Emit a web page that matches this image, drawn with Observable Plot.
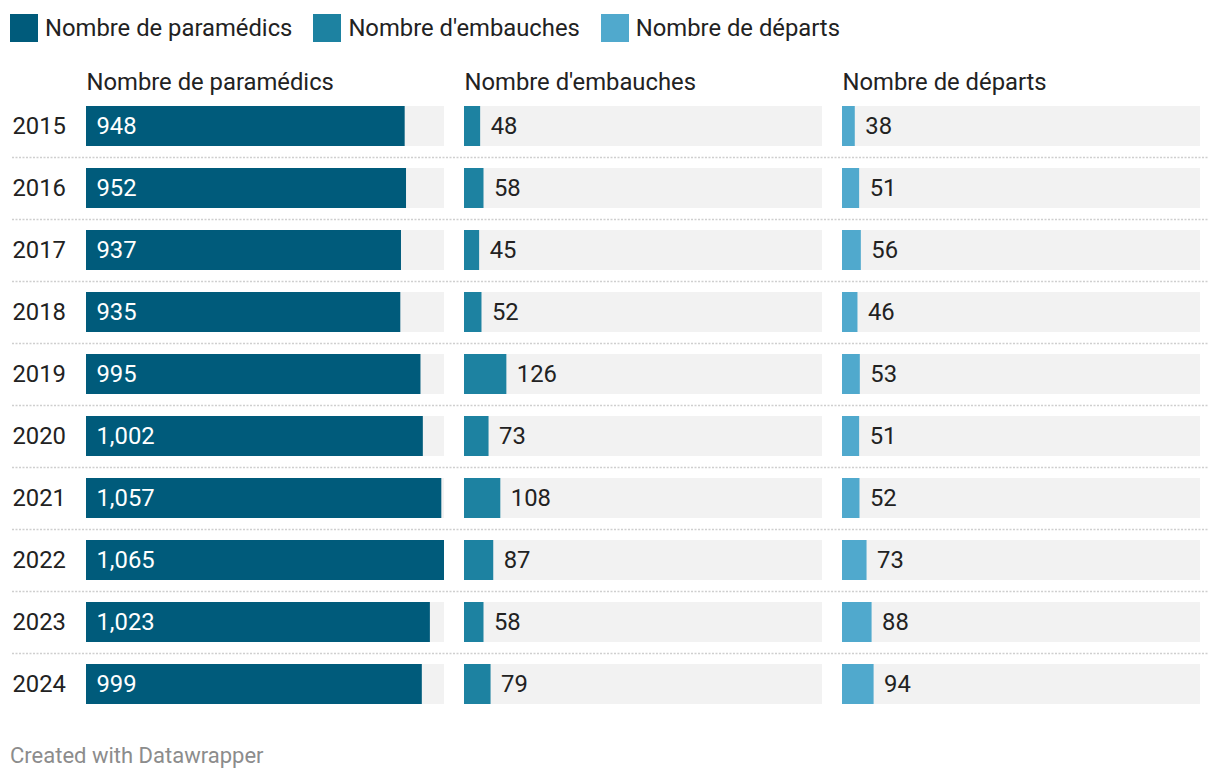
<!DOCTYPE html>
<html><head><meta charset="utf-8">
<script src="https://cdn.jsdelivr.net/npm/d3@7"></script>
<script src="https://cdn.jsdelivr.net/npm/@observablehq/plot@0.6"></script>
<style>
body{margin:0;background:#fff;font-family:Roboto,sans-serif;width:1220px;height:782px;position:relative;overflow:hidden}
#legend{position:absolute;left:10px;top:14px;display:flex;font-size:23.8px;color:#222;line-height:28px}
.item{display:flex;align-items:center;margin-right:21px}
.sw{width:28px;height:28px;margin-right:7px}
#chart{position:absolute;left:0;top:50px}
#footer{position:absolute;left:10px;top:743px;font-size:22px;line-height:26px;color:#8c8c8c}
</style></head>
<body>
<div id="legend"></div>
<div id="chart"></div>
<div id="footer">Created with Datawrapper</div>
<script>
const years = ["2015","2016","2017","2018","2019","2020","2021","2022","2023","2024"];
const metrics = ["Nombre de paramédics","Nombre d'embauches","Nombre de départs"];
const paramedics = [948,952,937,935,995,1002,1057,1065,1023,999];
const hires = [48,58,45,52,126,73,108,87,58,79];
const departures = [38,51,56,46,53,51,52,73,88,94];
const colors = ["#005b7b","#1d82a1","#50a9cd"];

const series = [paramedics, hires, departures];
const rows = metrics.flatMap((m, i) => years.map((y, j) => ({metric: m, year: y, value: series[i][j]})));
const xMax = d3.max(rows, d => d.value);
const fmt = d3.format(",");

const legend = document.getElementById("legend");
metrics.forEach((m, i) => {
  const it = document.createElement("div"); it.className = "item";
  const sw = document.createElement("div"); sw.className = "sw"; sw.style.background = colors[i];
  const t = document.createElement("span"); t.textContent = m;
  it.appendChild(sw); it.appendChild(t); legend.appendChild(it);
});

const chart = Plot.plot({
  width: 1220,
  height: 670,
  marginLeft: 86,
  marginRight: 20,
  marginTop: 56,
  marginBottom: 16,
  style: {fontFamily: "Roboto, sans-serif", fontSize: "23.8px", color: "#222", background: "#fff"},
  fx: {domain: metrics, axis: null, paddingInner: 20 / 378, paddingOuter: 0},
  y: {domain: years, axis: null, paddingInner: 22 / 62, paddingOuter: 0},
  x: {domain: [0, xMax], axis: null},
  color: {domain: metrics, range: colors},
  marks: [
    Plot.ruleY(years.slice(0, -1), {fx: () => metrics[0], y: d => d, dy: 31, insetLeft: -74, insetRight: -764, stroke: "#cfcfcf", strokeDasharray: "2,1.5", strokeWidth: 1.5}),
    Plot.barX(rows, {fx: "metric", y: "year", x: () => xMax, fill: "#f2f2f2"}),
    Plot.barX(rows, {fx: "metric", y: "year", x: "value", fill: "metric"}),
    Plot.text(rows.filter(d => d.metric === metrics[0]), {fx: "metric", y: "year", text: d => fmt(d.value), frameAnchor: "left", dx: 10, textAnchor: "start", fill: "#fff"}),
    Plot.text(rows.filter(d => d.metric !== metrics[0]), {fx: "metric", y: "year", x: "value", text: d => fmt(d.value), dx: 10, textAnchor: "start", fill: "#222"}),
    Plot.text(years, {fx: () => metrics[0], y: d => d, text: d => d, frameAnchor: "left", dx: -74, textAnchor: "start", fill: "#222"}),
    Plot.text(metrics, {fx: d => d, text: d => d, frameAnchor: "top-left", dy: -24, lineAnchor: "middle", textAnchor: "start", fill: "#222"})
  ]
});
document.getElementById("chart").appendChild(chart);
</script>
</body></html>
